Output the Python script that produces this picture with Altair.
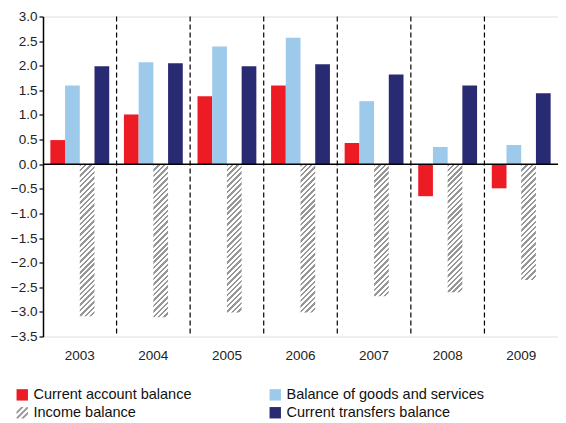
import math
import altair as alt
import pandas as pd

years = ["2003", "2004", "2005", "2006", "2007", "2008", "2009"]
current_account = [0.49, 1.01, 1.38, 1.60, 0.43, -0.65, -0.49]
goods_services = [1.60, 2.07, 2.39, 2.57, 1.28, 0.35, 0.39]
income = [-3.09, -3.11, -3.01, -3.01, -2.68, -2.60, -2.35]
transfers = [1.99, 2.05, 1.99, 2.03, 1.82, 1.60, 1.44]
series = ["Current account balance", "Balance of goods and services",
          "Income balance", "Current transfers balance"]
legend_order = ["Current account balance", "Income balance",
                "Balance of goods and services", "Current transfers balance"]
y_ticks = [3.0, 2.5, 2.0, 1.5, 1.0, 0.5, 0.0, -0.5, -1.0, -1.5, -2.0, -2.5, -3.0, -3.5]

RED = "#ED1C24"
LBLUE = "#9DC9EB"
NAVY = "#282A72"
GRAY = "#979797"
FONT = "Liberation Sans"
legend_colors = [RED, GRAY, LBLUE, NAVY]

W, H = 515, 320
Y_MIN, Y_MAX = -3.5, 3.0

rows = []
for i, y in enumerate(years):
    rows.append({"year": y, "series": series[0], "value": current_account[i], "col": RED})
    rows.append({"year": y, "series": series[1], "value": goods_services[i], "col": LBLUE})
    rows.append({"year": y, "series": series[3], "value": transfers[i], "col": NAVY})
solid = pd.DataFrame(rows)
inc_df = pd.DataFrame({"year": years, "series": series[2], "value": income})
div_df = pd.DataFrame({"year": years[1:]})

x_scale = alt.Scale(domain=years, paddingInner=0, paddingOuter=0)
x_axis = alt.Axis(title=None, domain=False, ticks=False, labelAngle=0,
                  labelFont=FONT, labelFontSize=13.5, labelColor="#222",
                  labelPadding=12)
x_enc = alt.X("year:N", sort=years, scale=x_scale, axis=x_axis)
xoff = alt.XOffset("series:N", scale=alt.Scale(domain=series, paddingInner=0, paddingOuter=0.5))
y_scale = alt.Scale(domain=[Y_MIN, Y_MAX], nice=False, zero=False)
y_axis = alt.Axis(title=None, values=y_ticks, format=".1f", grid=False,
                  labelOverlap=False,
                  domainColor="black", domainWidth=1.5, tickColor="black",
                  tickSize=4, tickWidth=1.2, labelFont=FONT, labelFontSize=13.5,
                  labelColor="#222", labelPadding=2)
y_enc = alt.Y("value:Q", scale=y_scale, axis=y_axis)

color_scale = alt.Scale(domain=legend_order, range=legend_colors)

bars = alt.Chart(solid).mark_bar().encode(
    x=x_enc, xOffset=xoff, y=y_enc,
    fill=alt.Fill("col:N", scale=None),
)

# hatched bars: one gradient per bar
bar_w = (W / len(years)) / 5.0
period = 3.8
hatch_layers = []
for i, y in enumerate(years):
    h = abs(income[i]) * H / (Y_MAX - Y_MIN)
    lam = (bar_w + h) / (bar_w ** 2 + h ** 2)
    x2, y2 = lam * bar_w, lam * h
    diag = (bar_w + h) / math.sqrt(2)
    n = max(1, round(diag / period))
    stops = []
    f = 0.45
    for k in range(n):
        t0 = k / n
        t1 = (k + f) / n
        t2 = (k + 1) / n
        stops += [{"offset": t0, "color": "white"},
                  {"offset": t0 + 0.0001 / n, "color": GRAY},
                  {"offset": t1, "color": GRAY},
                  {"offset": min(t1 + 0.0001 / n, 1), "color": "white"},
                  {"offset": t2, "color": "white"}]
    grad = {"gradient": "linear", "x1": 0, "y1": 0, "x2": x2, "y2": y2, "stops": stops}
    layer = alt.Chart(inc_df[inc_df["year"] == y]).mark_bar(color=grad).encode(
        x=x_enc, xOffset=xoff, y=y_enc,
    )
    hatch_layers.append(layer)

zero = alt.Chart(pd.DataFrame({"value": [0.0]})).mark_rule(color="black", strokeWidth=1.5).encode(
    y=y_enc
)

hatch_path = ("M-1,-0.2L-0.2,-1L0.25,-1L-1,0.25Z "
              "M-1,0.8L0.8,-1L1,-1L1,-0.75L-0.75,1L-1,1Z "
              "M-0.2,1L1,-0.2L1,0.25L0.25,1Z")
legend_pts = alt.Chart(inc_df).mark_point(filled=True, opacity=1, strokeWidth=0, size=0).encode(
    x=x_enc,
    y=y_enc,
    color=alt.Color("series:N", scale=color_scale, title=None,
                    legend=alt.Legend(orient="none", legendX=-28, legendY=371, columns=2,
                                      columnPadding=76, rowPadding=3, symbolSize=130,
                                      symbolStrokeWidth=0, labelFont=FONT, labelFontSize=14.5,
                                      labelColor="#111", labelLimit=400, labelOffset=4,
                                      symbolOpacity=1, title=None)),
    shape=alt.Shape("series:N", title=None,
                    scale=alt.Scale(domain=legend_order,
                                    range=["square", hatch_path, "square", "square"])),
)

main = alt.layer(bars, *hatch_layers, zero, legend_pts)

dividers = alt.Chart(div_df).mark_rule(color="black", strokeDash=[5, 3], strokeWidth=1.2).encode(
    x=alt.X("year:N", sort=years, bandPosition=0,
            scale=alt.Scale(domain=years, paddingInner=0, paddingOuter=0), axis=None)
)

chart = alt.layer(dividers, main).resolve_scale(x="independent").properties(
    width=W, height=H,
    autosize=alt.AutoSizeParams(type="none"),
    padding={"left": 35, "top": 8.5, "right": 0, "bottom": 85},
).configure_view(stroke=None).configure(background="white").configure_axisY(
    labelOverlap=False
)

chart.save("out.html", embed_options={"renderer": "svg", "actions": False})
